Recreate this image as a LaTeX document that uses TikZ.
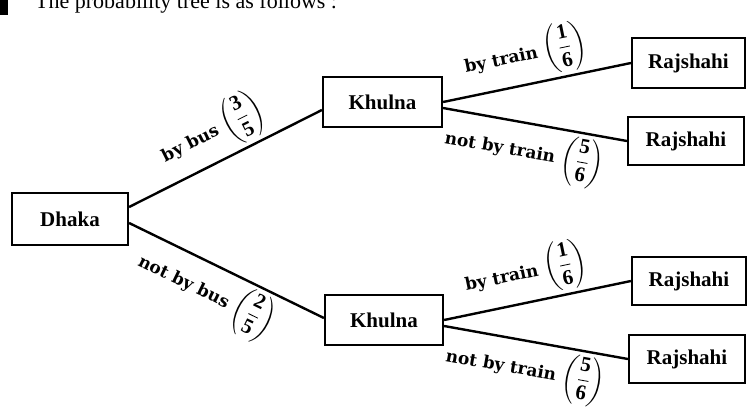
\documentclass[tikz,border=0pt]{standalone}
\usepackage{amsmath}
\usepackage{fontspec}
\setmainfont{Liberation Serif}
\newfontfamily\labelfont{DejaVu Serif}
% probability in large round brackets
\newcommand{\pfrac}[2]{{\fontsize{21}{24}\selectfont$\left(\dfrac{\mathbf{#1}}{\mathbf{#2}}\right)$}}
\begin{document}
\begin{tikzpicture}[x=1pt,y=-1pt,
  place/.style={draw, line width=2.2pt, rectangle, inner sep=0pt,
    font=\fontsize{21}{24}\selectfont\bfseries},
  branch/.style={line width=2.4pt},
  prob/.style={sloped, inner sep=3pt, font=\labelfont\bfseries\fontsize{17}{20}\selectfont}]
\useasboundingbox (0,0) rectangle (747,410);

% heading line, partly cut by the top edge
\fill (0,-2) rectangle (8,15);
\node[anchor=base west, inner sep=0pt, font=\fontsize{22}{26}\selectfont]
  (head) at (35,8) {The probability tree is as follows :};

% places
\node[place, minimum width=116pt, minimum height=52pt] (dhaka)   at (70,219)  {Dhaka};
\node[place, minimum width=119pt, minimum height=50pt] (khulnaA) at (382.5,102) {Khulna};
\node[place, minimum width=118pt, minimum height=50pt] (khulnaB) at (384,320) {Khulna};
\node[place, minimum width=113pt, minimum height=50pt] (r1) at (688.5,63)  {Rajshahi};
\node[place, minimum width=116pt, minimum height=48pt] (r2) at (686,141) {Rajshahi};
\node[place, minimum width=114pt, minimum height=48pt] (r3) at (689,281) {Rajshahi};
\node[place, minimum width=116pt, minimum height=48pt] (r4) at (687,359) {Rajshahi};

% first stage
\draw[branch] ([yshift=12pt]dhaka.east) -- ([yshift=-8pt]khulnaA.west)
  node[prob, above, pos=0.5] {by bus \pfrac{3}{5}};
\draw[branch] ([yshift=-4pt]dhaka.east) -- ([yshift=2pt]khulnaB.west)
  node[prob, below, pos=0.46] {not by bus \pfrac{2}{5}};

% second stage, upper branch
\draw[branch] (khulnaA.east) -- (r1.west)
  node[prob, above, pos=0.47] {by train \pfrac{1}{6}};
\draw[branch] ([yshift=-6pt]khulnaA.east) -- (r2.west)
  node[prob, below, pos=0.47] {not by train \pfrac{5}{6}};

% second stage, lower branch
\draw[branch] (khulnaB.east) -- (r3.west)
  node[prob, above, pos=0.47] {by train \pfrac{1}{6}};
\draw[branch] ([yshift=-6pt]khulnaB.east) -- (r4.west)
  node[prob, below, pos=0.47] {not by train \pfrac{5}{6}};
\end{tikzpicture}
\end{document}
